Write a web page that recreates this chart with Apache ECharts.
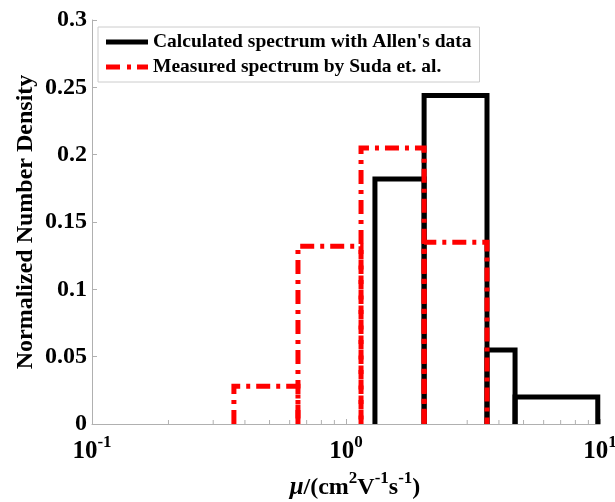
<!DOCTYPE html>
<html>
<head>
<meta charset="utf-8">
<script src="https://cdn.jsdelivr.net/npm/echarts@6/dist/echarts.min.js"></script>
<style>html,body{margin:0;padding:0;background:#fff;}#c{width:615px;height:502px;}</style>
</head>
<body>
<div id="c"></div>
<script>
// ---- data ----
const seriesNames = ["Calculated spectrum with Allen's data", "Measured spectrum by Suda et. al."];
const calcEdges = [1.30, 2.03, 3.59, 4.63, 9.8];
const calcValues = [0.182, 0.244, 0.055, 0.020];
const measEdges = [0.362, 0.647, 1.146, 2.03, 3.59];
const measValues = [0.028, 0.132, 0.205, 0.135];
const xTickValues = [0.1, 1, 10];
const xTickExponents = ['-1', '0', '1'];
const xMinorTicks = [0.2, 0.3, 0.4, 0.5, 0.6, 0.7, 0.8, 0.9, 2, 3, 4, 5, 6, 7, 8, 9];
const yTickLabels = ['0', '0.05', '0.1', '0.15', '0.2', '0.25', '0.3'];

function bins(edges, values) {
  const out = [];
  for (let i = 0; i < values.length; i++) out.push([edges[i], edges[i + 1], values[i]]);
  return out;
}

const FONT = "'Liberation Serif', 'Times New Roman', serif";
const chart = echarts.init(document.getElementById('c'), null, {renderer: 'canvas'});

function histRender(color, dash) {
  return function (params, api) {
    const x0 = api.value(0), x1 = api.value(1), h = api.value(2);
    const p0 = api.coord([x0, 0]);
    const p1 = api.coord([x1, h]);
    return {
      type: 'polyline',
      shape: {points: [[p0[0], p0[1]], [p0[0], p1[1]], [p1[0], p1[1]], [p1[0], p0[1]]]},
      style: {stroke: color, fill: null, lineWidth: 5, lineDash: dash, lineJoin: 'miter', lineCap: 'butt'}
    };
  };
}

const option = {
  animation: false,
  backgroundColor: '#fff',
  grid: {left: 92, right: 15, top: 20, bottom: 78, containLabel: false, outerBoundsMode: 'none'},
  legend: {
    orient: 'vertical',
    left: 98, top: 27,
    padding: [5, 8, 5, 8],
    itemGap: 5,
    itemWidth: 42, itemHeight: 5,
    borderColor: '#cccccc', borderWidth: 1,
    textStyle: {fontFamily: FONT, fontWeight: 'bold', fontSize: 19.5, color: '#000', lineHeight: 20},
    data: [
      {name: seriesNames[0], icon: 'path://M0,0H42V5H0Z', itemStyle: {color: '#000', borderWidth: 0}},
      {name: seriesNames[1], icon: 'path://M0,0H14V5H0Z M21,0H25V5H21Z M31,0H42V5H31Z', itemStyle: {color: '#ff0000', borderWidth: 0}}
    ]
  },
  xAxis: {
    type: 'log', logBase: 10, min: 0.1, max: 10,
    axisLine: {lineStyle: {color: '#b0b0b0', width: 1}},
    axisTick: {inside: true, length: 5, lineStyle: {color: '#b0b0b0'}},
    splitLine: {show: false},
    minorTick: {show: false},
    axisLabel: {
      margin: 10,
      formatter: function (v) {
        let idx = xTickValues.findIndex(t => Math.abs(Math.log10(t) - Math.log10(v)) < 1e-6);
        if (idx < 0) return '';
        return '{b|10}{s|' + xTickExponents[idx] + '}';
      },
      rich: {
        b: {fontFamily: FONT, fontWeight: 'bold', fontSize: 25, color: '#000', lineHeight: 30, verticalAlign: 'bottom'},
        s: {fontFamily: FONT, fontWeight: 'bold', fontSize: 17, color: '#000', lineHeight: 17, verticalAlign: 'top'}
      }
    },
    name: '{mu|\u03bc}{t|/(cm}{s|2}{t|V}{s|-1}{t|s}{s|-1}{t|)}',
    nameLocation: 'middle',
    nameGap: 46,
    nameTextStyle: {
      padding: [0, 0, 0, 18],
      rich: {
        mu: {fontFamily: FONT, fontWeight: 'bold', fontStyle: 'italic', fontSize: 25, color: '#000', lineHeight: 30, verticalAlign: 'bottom'},
        t: {fontFamily: FONT, fontWeight: 'bold', fontSize: 24, color: '#000', lineHeight: 30, verticalAlign: 'bottom'},
        s: {fontFamily: FONT, fontWeight: 'bold', fontSize: 17, color: '#000', lineHeight: 17, verticalAlign: 'top'}
      }
    }
  },
  yAxis: {
    type: 'value', min: 0, max: 0.3, interval: 0.05,
    axisLine: {show: true, lineStyle: {color: '#b0b0b0', width: 1}},
    axisTick: {show: true, inside: true, length: 5, lineStyle: {color: '#b0b0b0'}},
    splitLine: {show: false},
    axisLabel: {
      margin: 5,
      fontFamily: FONT, fontWeight: 'bold', fontSize: 24, color: '#000',
      formatter: function (v) { return yTickLabels[Math.round(v / 0.05)]; }
    },
    name: 'Normalized Number Density',
    nameLocation: 'middle',
    nameRotate: 90,
    nameGap: 54,
    nameMoveOverlap: false,
    nameTextStyle: {fontFamily: FONT, fontWeight: 'bold', fontSize: 24, color: '#000'}
  },
  series: [
    {
      name: 'minorTicks', type: 'custom', silent: true, z: 1,
      data: xMinorTicks.map(v => [v]),
      encode: {x: 0},
      renderItem: function (params, api) {
        const p = api.coord([api.value(0), 0]);
        return {type: 'line', shape: {x1: p[0], y1: p[1], x2: p[0], y2: p[1] - 4},
                style: {stroke: '#b0b0b0', lineWidth: 1}};
      }
    },
    {
      name: seriesNames[0], type: 'custom', z: 2,
      itemStyle: {color: '#000'},
      data: bins(calcEdges, calcValues),
      encode: {x: [0, 1], y: 2},
      renderItem: histRender('#000000', null)
    },
    {
      name: seriesNames[1], type: 'custom', z: 3,
      itemStyle: {color: '#ff0000'},
      data: bins(measEdges, measValues),
      encode: {x: [0, 1], y: 2},
      renderItem: histRender('#ff0000', [14, 6, 4, 6])
    }
  ]
};
chart.setOption(option);
</script>
</body>
</html>
